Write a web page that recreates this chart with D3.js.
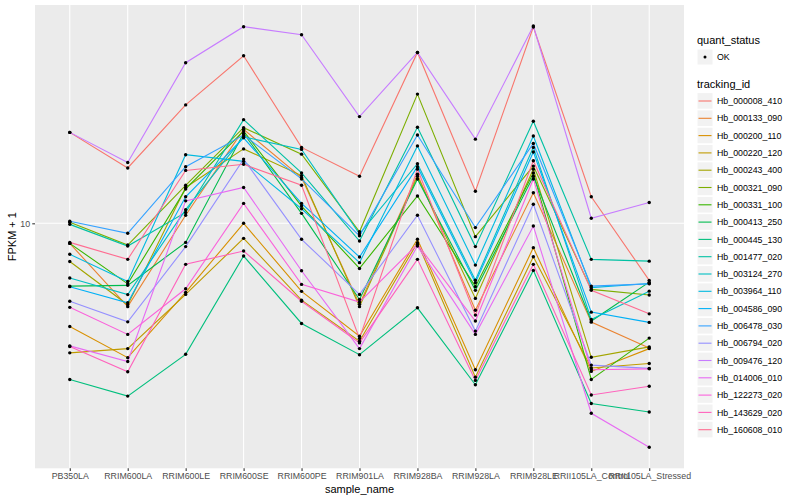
<!DOCTYPE html>
<html><head><meta charset="utf-8">
<script src="https://cdn.jsdelivr.net/npm/d3@7/dist/d3.min.js"></script>
<style>
body{margin:0;background:#fff}
svg text{font-family:"Liberation Sans",Arial,Helvetica,sans-serif}
</style>
</head><body>
<svg id="chart" width="800" height="500"></svg>
<script>
// ---- data ----
const samples = ["PB350LA","RRIM600LA","RRIM600LE","RRIM600SE","RRIM600PE","RRIM901LA","RRIM928BA","RRIM928LA","RRIM928LE","RRII105LA_Control","RRII105LA_Stressed"];
const trackingIds = ["Hb_000008_410","Hb_000133_090","Hb_000200_110","Hb_000220_120","Hb_000243_400","Hb_000321_090","Hb_000331_100","Hb_000413_250","Hb_000445_130","Hb_001477_020","Hb_003124_270","Hb_003964_110","Hb_004586_090","Hb_006478_030","Hb_006794_020","Hb_009476_120","Hb_014006_010","Hb_122273_020","Hb_143629_020","Hb_160608_010"];
const seriesColors = ["#F8766D","#EA8331","#D89000","#C09B00","#A3A500","#7CAE00","#39B600","#00BB4E","#00BF7D","#00C1A3","#00BFC4","#00BAE0","#00B0F6","#35A2FF","#9590FF","#C77CFF","#E76BF3","#FA62DB","#FF62BC","#FF6C91"];
const quantStatus = ["OK"];
const yTicks = [10];

// FPKM + 1 per sample (same order as samples)
const hb000008_410 = [23.9,17.0,31.1,49.8,20.7,15.7,51.4,13.6,65.6,12.9,5.79];
const hb000133_090 = [8.25,4.50,10.8,24.6,15.5,4.60,16.0,4.35,13.4,3.88,3.03];
const hb000200_110 = [3.72,2.76,5.16,10.0,5.21,3.39,8.58,2.46,7.92,2.42,3.01];
const hb000220_120 = [2.89,3.01,5.06,8.66,4.79,3.23,8.31,2.29,7.26,2.50,2.61];
const hb000243_400 = [6.94,4.58,14.1,20.4,15.8,4.50,15.7,4.87,16.8,2.77,3.06];
const hb000321_090 = [10.1,8.12,14.4,25.0,19.4,9.22,34.5,8.80,17.3,5.31,5.03];
const hb000331_100 = [8.25,5.60,13.9,24.2,11.8,6.49,13.0,5.45,16.2,2.24,3.33];
const hb000413_250 = [5.48,5.52,8.33,23.7,11.0,4.82,15.3,5.26,15.7,3.92,5.69];
const hb000445_130 = [2.24,1.91,2.85,7.31,3.83,2.84,4.45,2.13,6.37,1.78,1.64];
const hb001477_020 = [9.90,8.04,11.1,27.0,16.2,8.44,25.1,8.00,26.6,7.08,6.96];
const hb003124_270 = [5.92,5.05,11.4,22.9,20.3,9.04,17.7,5.80,20.7,3.98,5.22];
const hb003964_110 = [7.43,5.73,19.3,18.1,11.5,6.86,21.0,6.70,23.1,5.40,5.62];
const hb004586_090 = [5.45,4.67,12.9,22.7,12.1,7.24,17.2,5.66,19.8,4.27,3.87];
const hb006478_030 = [10.2,9.09,17.2,23.3,15.3,8.87,23.3,9.60,21.5,5.48,5.60];
const hb006794_020 = [4.74,3.89,8.00,18.5,8.58,5.06,10.8,3.56,12.0,2.57,2.49];
const hb009476_120 = [23.9,17.9,46.6,65.8,60.9,27.8,51.4,22.4,66.2,10.5,12.2];
const hb014006_010 = [3.09,2.66,12.4,14.1,6.35,3.01,8.04,3.45,9.74,1.62,1.17];
const hb122273_020 = [4.47,3.45,5.34,12.1,5.57,4.70,8.18,3.92,15.3,2.46,2.48];
const hb143629_020 = [3.07,2.41,6.75,7.67,4.74,3.18,7.08,2.22,6.75,1.93,2.10];
const hb160608_010 = [8.33,7.08,16.6,17.6,14.4,3.32,16.8,4.15,18.2,5.26,4.20];

const seriesValues = [hb000008_410,hb000133_090,hb000200_110,hb000220_120,hb000243_400,hb000321_090,hb000331_100,hb000413_250,hb000445_130,hb001477_020,hb003124_270,hb003964_110,hb004586_090,hb006478_030,hb006794_020,hb009476_120,hb014006_010,hb122273_020,hb143629_020,hb160608_010];

// ---- layout ----
const svg = d3.select("#chart");
const P = {left:35, right:684, top:5, bottom:468.3};

const allVals = seriesValues.flat();
const lmin = Math.log10(d3.min(allVals)), lmax = Math.log10(d3.max(allVals));
const pad = (lmax - lmin) * 0.05;
const y = d3.scaleLog().domain([Math.pow(10, lmin - pad), Math.pow(10, lmax + pad)]).range([P.bottom, P.top]);
const x = d3.scalePoint().domain(samples).range([P.left, P.right]).padding(0.6);

// panel
svg.append("rect").attr("x",P.left).attr("y",P.top).attr("width",P.right-P.left).attr("height",P.bottom-P.top).attr("fill","#EBEBEB");

// grid
svg.append("g").selectAll("line").data(samples).join("line")
  .attr("x1",d=>x(d)).attr("x2",d=>x(d)).attr("y1",P.top).attr("y2",P.bottom)
  .attr("stroke","#fff").attr("stroke-width",1.07);
svg.append("g").selectAll("line").data(yTicks).join("line")
  .attr("x1",P.left).attr("x2",P.right).attr("y1",d=>y(d)).attr("y2",d=>y(d))
  .attr("stroke","#fff").attr("stroke-width",1.07);

// lines
const line = d3.line().x((d,i)=>x(samples[i])).y(d=>y(d));
svg.append("g").selectAll("path").data(seriesValues).join("path")
  .attr("d",line).attr("fill","none")
  .attr("stroke",(d,i)=>seriesColors[i]).attr("stroke-width",1.1);

// points
const pts = [];
seriesValues.forEach(s=>s.forEach((v,i)=>pts.push({s:samples[i],v})));
svg.append("g").selectAll("circle").data(pts).join("circle")
  .attr("cx",d=>x(d.s)).attr("cy",d=>y(d.v)).attr("r",1.7).attr("fill","#000");

// axes
const yAxis = svg.append("g").attr("transform",`translate(${P.left},0)`)
  .call(d3.axisLeft(y).tickValues(yTicks).tickFormat(d3.format("d")).tickSize(2.75).tickPadding(2.2));
const xAxis = svg.append("g").attr("transform",`translate(0,${P.bottom})`)
  .call(d3.axisBottom(x).tickSize(2.75).tickPadding(2.2));
[yAxis,xAxis].forEach(a=>{
  a.select(".domain").remove();
  a.selectAll(".tick line").attr("stroke","#333333").attr("stroke-width",1.07);
  a.selectAll(".tick text").attr("fill","#4D4D4D").style("font-size","8.8px");
});

// axis titles
svg.append("text").attr("x",(P.left+P.right)/2).attr("y",493).attr("text-anchor","middle")
  .style("font-size","11px").attr("fill","#000").text("sample_name");
svg.append("text").attr("transform",`translate(16,${(P.top+P.bottom)/2}) rotate(-90)`).attr("text-anchor","middle")
  .style("font-size","11px").attr("fill","#000").text("FPKM + 1");

// legend
const LX = 697;
svg.append("text").attr("x",LX).attr("y",44).style("font-size","11px").text("quant_status");
const qk = svg.append("g").selectAll("g").data(quantStatus).join("g").attr("transform",(d,i)=>`translate(${LX},${49+i*17.3})`);
qk.append("rect").attr("width",16).attr("height",16).attr("fill","#F2F2F2").attr("stroke","#fff").attr("stroke-width",1);
qk.append("circle").attr("cx",8).attr("cy",8).attr("r",1.5).attr("fill","#000");
qk.append("text").attr("x",20).attr("y",11.2).style("font-size","8.8px").text(d=>d);

svg.append("text").attr("x",LX).attr("y",88).style("font-size","11px").text("tracking_id");
const tk = svg.append("g").selectAll("g").data(trackingIds).join("g")
  .attr("transform",(d,i)=>`translate(${LX},${92.6+i*17.3})`);
tk.append("rect").attr("width",16).attr("height",16.6).attr("fill","#F2F2F2").attr("stroke","#fff").attr("stroke-width",1);
tk.append("line").attr("x1",1.5).attr("x2",14.5).attr("y1",8.4).attr("y2",8.4)
  .attr("stroke",(d,i)=>seriesColors[i]).attr("stroke-width",1.1);
tk.append("text").attr("x",20).attr("y",11.5).style("font-size","8.8px").text(d=>d);
</script>
</body></html>
